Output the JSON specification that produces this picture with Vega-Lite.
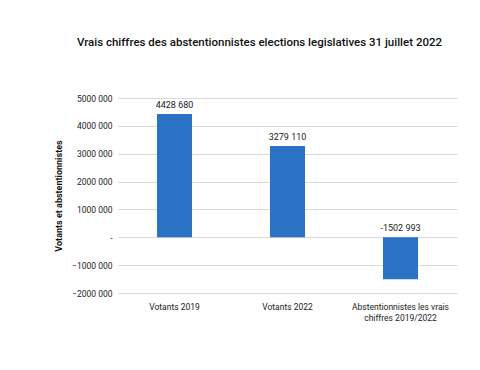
{
  "$schema": "https://vega.github.io/schema/vega-lite/v6.json",
  "width": 339,
  "height": 195,
  "autosize": {"type": "none"},
  "padding": {"left": 118, "top": 98, "right": 23, "bottom": 77},
  "background": "white",
  "title": {
    "text": "Vrais chiffres des abstentionnistes elections legislatives 31 juillet 2022",
    "font": "Roboto, sans-serif",
    "fontSize": 11.5,
    "fontWeight": 500,
    "color": "#111111",
    "anchor": "middle",
    "dx": -28,
    "offset": 46
  },
  "data": {
    "values": [
      {"categorie": "Votants 2019", "valeur": 4428680, "etiquette": "4428 680"},
      {"categorie": "Votants 2022", "valeur": 3279110, "etiquette": "3279 110"},
      {"categorie": "Abstentionnistes les vrais chiffres 2019/2022", "valeur": -1502993, "etiquette": "-1502 993"}
    ]
  },
  "encoding": {
    "x": {
      "field": "categorie",
      "type": "nominal",
      "sort": null,
      "scale": {"paddingInner": 0.69, "paddingOuter": 0.345},
      "axis": {
        "title": null,
        "labelAngle": 0,
        "domain": false,
        "ticks": false,
        "labelPadding": 9,
        "labelFont": "Roboto, sans-serif",
        "labelFontSize": 8.5,
        "labelColor": "#222222",
        "labelLineHeight": 11,
        "labelExpr": "datum.label == 'Abstentionnistes les vrais chiffres 2019/2022' ? ['Abstentionnistes les vrais', 'chiffres 2019/2022'] : datum.label"
      }
    }
  },
  "layer": [
    {
      "mark": {"type": "bar", "color": "#2a72c4"},
      "encoding": {
        "y": {
          "field": "valeur",
          "type": "quantitative",
          "scale": {"domain": [-2000000, 5000000], "nice": false, "zero": true},
          "axis": {
            "title": "Votants et abstentionnistes",
            "titleFont": "Roboto, sans-serif",
            "titleFontSize": 9,
            "titleFontWeight": "bold",
            "titleColor": "#111111",
            "titlePadding": 8,
            "values": [-2000000, -1000000, 0, 1000000, 2000000, 3000000, 4000000, 5000000],
            "labelExpr": "datum.value == 0 ? '-' : format(datum.value / 1000000, 'd') + '000 000'",
            "labelOverlap": false,
            "labelFont": "Roboto, sans-serif",
            "labelFontSize": 8.5,
            "labelColor": "#222222",
            "labelPadding": 6,
            "domain": false,
            "ticks": false,
            "grid": true,
            "gridColor": "#d9d9d9",
            "gridWidth": 1
          }
        }
      }
    },
    {
      "transform": [{"filter": "datum.valeur > 0"}],
      "mark": {"type": "text", "baseline": "bottom", "dy": -4, "font": "Roboto, sans-serif", "fontSize": 9, "color": "#222222"},
      "encoding": {
        "y": {
          "field": "valeur",
          "type": "quantitative",
          "scale": {"domain": [-2000000, 5000000], "nice": false, "zero": true},
          "axis": {
            "title": "Votants et abstentionnistes",
            "titleFont": "Roboto, sans-serif",
            "titleFontSize": 9,
            "titleFontWeight": "bold",
            "titleColor": "#111111",
            "titlePadding": 8,
            "values": [-2000000, -1000000, 0, 1000000, 2000000, 3000000, 4000000, 5000000],
            "labelExpr": "datum.value == 0 ? '-' : format(datum.value / 1000000, 'd') + '000 000'",
            "labelOverlap": false,
            "labelFont": "Roboto, sans-serif",
            "labelFontSize": 8.5,
            "labelColor": "#222222",
            "labelPadding": 6,
            "domain": false,
            "ticks": false,
            "grid": true,
            "gridColor": "#d9d9d9",
            "gridWidth": 1
          }
        },
        "text": {"field": "etiquette"}
      }
    },
    {
      "transform": [{"filter": "datum.valeur < 0"}],
      "mark": {"type": "text", "baseline": "bottom", "dy": -4, "font": "Roboto, sans-serif", "fontSize": 9, "color": "#222222"},
      "encoding": {
        "y": {
          "datum": 0,
          "type": "quantitative",
          "scale": {"domain": [-2000000, 5000000], "nice": false, "zero": true},
          "axis": {
            "title": "Votants et abstentionnistes",
            "titleFont": "Roboto, sans-serif",
            "titleFontSize": 9,
            "titleFontWeight": "bold",
            "titleColor": "#111111",
            "titlePadding": 8,
            "values": [-2000000, -1000000, 0, 1000000, 2000000, 3000000, 4000000, 5000000],
            "labelExpr": "datum.value == 0 ? '-' : format(datum.value / 1000000, 'd') + '000 000'",
            "labelOverlap": false,
            "labelFont": "Roboto, sans-serif",
            "labelFontSize": 8.5,
            "labelColor": "#222222",
            "labelPadding": 6,
            "domain": false,
            "ticks": false,
            "grid": true,
            "gridColor": "#d9d9d9",
            "gridWidth": 1
          }
        },
        "text": {"field": "etiquette"}
      }
    }
  ],
  "config": {"view": {"stroke": null}}
}
